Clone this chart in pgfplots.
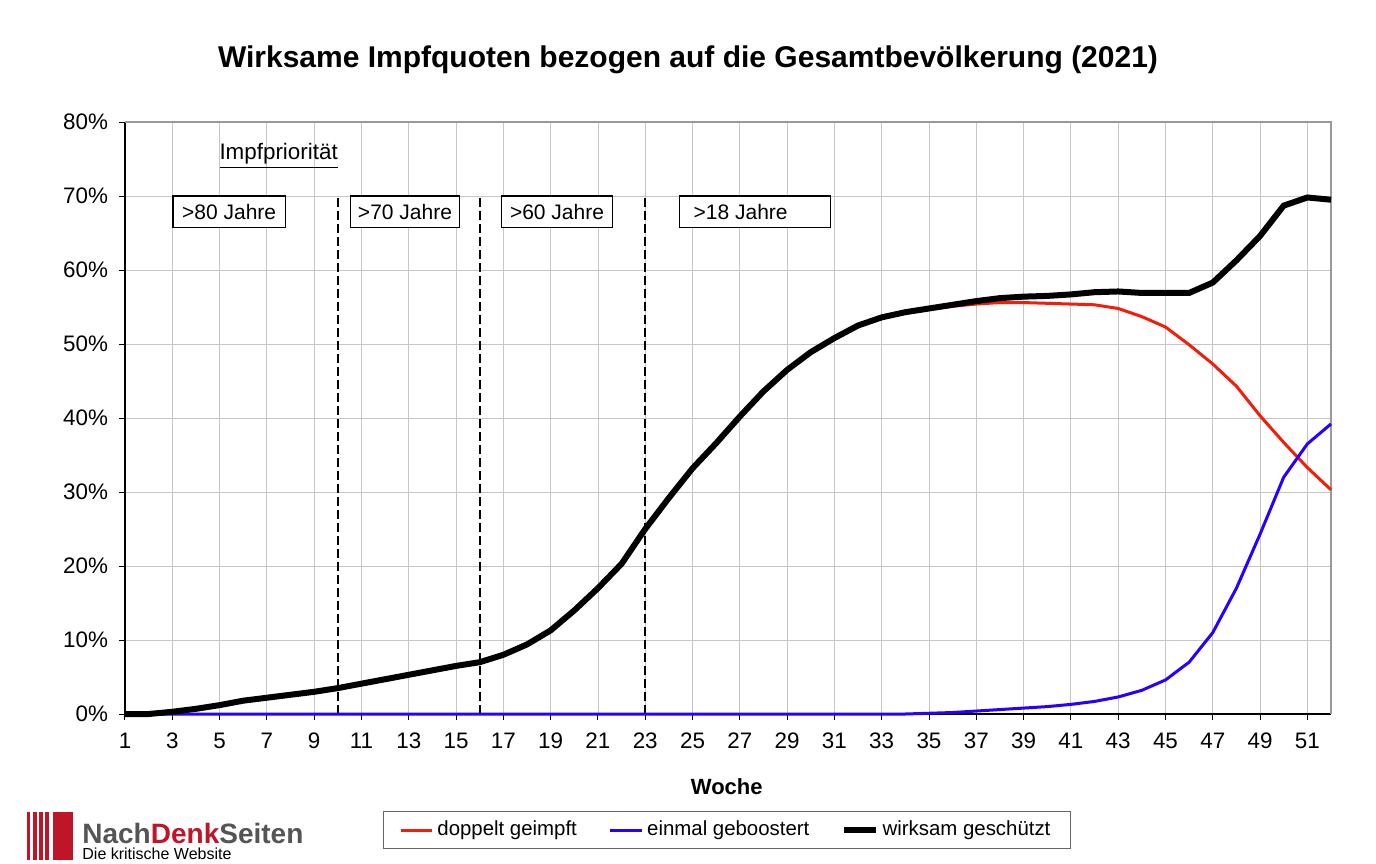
\documentclass[border=0pt]{standalone}
\usepackage{pgfplots}
\pgfplotsset{compat=1.18}
\usepackage{fontspec}
\setmainfont{Liberation Sans}

\definecolor{dgred}{RGB}{240,30,10}
\definecolor{bblue}{RGB}{40,0,255}
\definecolor{logored}{RGB}{190,22,40}
\definecolor{logogray}{RGB}{85,85,85}

% Woche, doppelt geimpft, geboostert, wirksam
\pgfplotstableread{
w red blue black
1 0 0 0
2 0 0 0
3 0.3 0 0.3
4 0.7 0 0.7
5 1.2 0 1.2
6 1.8 0 1.8
7 2.2 0 2.2
8 2.6 0 2.6
9 3.0 0 3.0
10 3.5 0 3.5
11 4.1 0 4.1
12 4.7 0 4.7
13 5.3 0 5.3
14 5.9 0 5.9
15 6.5 0 6.5
16 7.0 0 7.0
17 8.0 0 8.0
18 9.4 0 9.4
19 11.3 0 11.3
20 14.0 0 14.0
21 17.0 0 17.0
22 20.3 0 20.3
23 25.0 0 25.0
24 29.2 0 29.2
25 33.2 0 33.2
26 36.6 0 36.6
27 40.2 0 40.2
28 43.6 0 43.6
29 46.5 0 46.5
30 48.9 0 48.9
31 50.8 0 50.8
32 52.5 0 52.5
33 53.6 0 53.6
34 54.3 0 54.3
35 54.7 0.1 54.8
36 55.1 0.2 55.3
37 55.4 0.4 55.8
38 55.6 0.6 56.2
39 55.6 0.8 56.4
40 55.5 1.0 56.5
41 55.4 1.3 56.7
42 55.3 1.7 57.0
43 54.8 2.3 57.1
44 53.7 3.2 56.9
45 52.3 4.6 56.9
46 49.9 7.0 56.9
47 47.3 11.0 58.3
48 44.3 17.0 61.3
49 40.3 24.3 64.6
50 36.7 32.0 68.7
51 33.3 36.5 69.8
52 30.3 39.2 69.5
}\impf

\begin{document}
\begin{tikzpicture}
\begin{axis}[
    at={(0,0)}, anchor=south west,
    scale only axis,
    width=603pt, height=296pt,
    xmin=1, xmax=52,
    ymin=0, ymax=80,
    xtick={1,3,...,51},
    ytick={0,10,...,80},
    yticklabel={\pgfmathprintnumber{\tick}\%},
    /pgf/number format/assume math mode=true,
    ticklabel style={font=\fontsize{11.2}{13}\selectfont},
    xticklabel style={yshift=-3pt},
    yticklabel style={xshift=-2pt},
    tick align=outside,
    major tick length=3pt,
    tick style={black, line width=0.5pt},
    axis x line*=bottom,
    axis y line*=left,
    axis line style={black, line width=0.6pt},
    separate axis lines,
    x axis line style={-}, y axis line style={-},
    grid=major,
    grid style={gray!45, line width=0.4pt},
    xlabel={\textbf{Woche}},
    xlabel style={font=\fontsize{11}{12}\selectfont, at={(axis description cs:0.499,-0.123)}, anchor=center},
    legend columns=3,
    legend style={at={(axis description cs:0.499,-0.196)}, anchor=center,
        draw=gray!80!black, line width=0.5pt, font=\fontsize{10.2}{12}\selectfont,
        inner xsep=8pt, inner ysep=3pt,
        /tikz/every even column/.append style={column sep=14pt}},
    legend image code/.code={\draw[#1] (0cm,0cm) -- (0.55cm,0cm);},
    clip=false,
]
\draw[gray!80, line width=0.6pt] (rel axis cs:0,1) -- (rel axis cs:1,1) -- (rel axis cs:1,0);

\draw[black, line width=0.8pt, dash pattern=on 4.5pt off 2pt] (axis cs:10,0) -- (axis cs:10,70);
\draw[black, line width=0.8pt, dash pattern=on 4.5pt off 2pt] (axis cs:16,0) -- (axis cs:16,70);
\draw[black, line width=0.8pt, dash pattern=on 4.5pt off 2pt] (axis cs:23,0) -- (axis cs:23,70);

\filldraw[fill=white, draw=black, line width=0.6pt] (axis cs:3.03,70) rectangle (axis cs:7.78,65.75);
\filldraw[fill=white, draw=black, line width=0.6pt] (axis cs:10.53,70) rectangle (axis cs:15.15,65.75);
\filldraw[fill=white, draw=black, line width=0.6pt] (axis cs:16.93,70) rectangle (axis cs:21.6,65.75);
\filldraw[fill=white, draw=black, line width=0.6pt] (axis cs:24.45,70) rectangle (axis cs:30.83,65.75);
\node[font=\fontsize{10.5}{12}\selectfont] at (axis cs:5.405,67.9) {>80 Jahre};
\node[font=\fontsize{10.5}{12}\selectfont] at (axis cs:12.84,67.9) {>70 Jahre};
\node[font=\fontsize{10.5}{12}\selectfont] at (axis cs:19.27,67.9) {>60 Jahre};
\node[font=\fontsize{10.5}{12}\selectfont, anchor=west] at (axis cs:24.75,67.9) {>18 Jahre};
\node[font=\fontsize{11.2}{12}\selectfont, anchor=west, inner sep=0pt] at (axis cs:4.98,75.4) {\underline{Impfpriorität}};

\addplot[dgred, line width=1.5pt] table[x=w, y=red] {\impf};
\addlegendentry{doppelt geimpft}
\addplot[bblue, line width=1.5pt] table[x=w, y=blue] {\impf};
\addlegendentry{einmal geboostert}
\addplot[black, line width=3pt] table[x=w, y=black] {\impf};
\addlegendentry{wirksam geschützt}
\end{axis}

\node[font=\fontsize{15}{17}\selectfont\bfseries] at (281.5pt,327pt) {Wirksame Impfquoten bezogen auf die Gesamtbevölkerung (2021)};

% Logo
\fill[logored] (-49pt,-49pt) rectangle (-47.5pt,-73pt);
\fill[logored] (-46pt,-49pt) rectangle (-44pt,-73pt);
\fill[logored] (-43pt,-49pt) rectangle (-41pt,-73pt);
\fill[logored] (-40pt,-49pt) rectangle (-38pt,-73pt);
\fill[logored] (-36pt,-49pt) rectangle (-26pt,-73pt);
\node[anchor=west, inner sep=0pt, font=\fontsize{14}{16}\selectfont\bfseries] at (-21.5pt,-59.5pt)
  {\textcolor{logogray}{Nach}\textcolor{logored}{Denk}\textcolor{logogray}{Seiten}};
\node[anchor=west, inner sep=0pt, font=\fontsize{8}{9}\selectfont] at (-21.5pt,-70pt) {Die kritische Website};

\pgfresetboundingbox
\path[use as bounding box] (-62.5pt,-74.5pt) rectangle (625.5pt,357pt);
\end{tikzpicture}
\end{document}
